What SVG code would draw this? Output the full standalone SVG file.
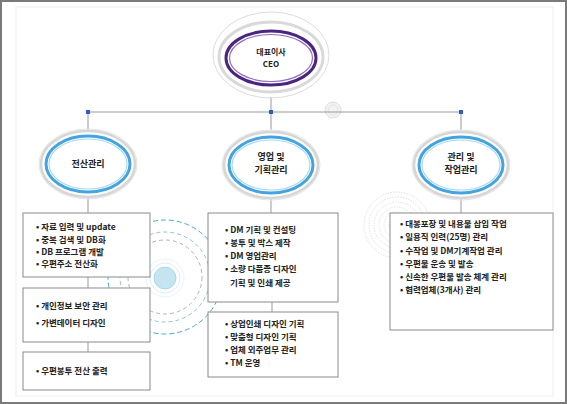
<svg xmlns="http://www.w3.org/2000/svg" width="567" height="404" viewBox="0 0 567 404">
<style>
.t{font-family:"Noto Sans CJK KR","Noto Sans",sans-serif;font-size:8.5px;font-weight:700;fill:#222}
.h{font-family:"Noto Sans CJK KR","Noto Sans",sans-serif;font-size:9px;font-weight:700;fill:#222;text-anchor:middle}
.box{fill:#fff;stroke:#8a8a8a;stroke-width:1}
.ln{stroke:#999;stroke-width:1;fill:none}
.g1{fill:none;stroke:#d6d6d6;stroke-width:2.5}
.g2{fill:none;stroke:#e4e4e4;stroke-width:1}
.b1{fill:#fff;stroke:#45a3de;stroke-width:3}
.b2{fill:none;stroke:#a9d9f3;stroke-width:1.2}
.sq{fill:#2a5bd0}
.dr{fill:none;stroke:#cfcfcf;stroke-width:0.6;stroke-dasharray:1.5 1.2}
</style>
<rect x="1" y="1" width="565" height="402" fill="#fff" stroke="#7a7a7a" stroke-width="2"/>
<rect x="16" y="7" width="537" height="389" fill="none" stroke="#eeeeee" stroke-width="1"/>
<g id="decor">
<circle cx="333" cy="110" r="8" fill="#f2f2f2" stroke="#d8d8d8" stroke-width="0.8"/>
<circle cx="333" cy="110" r="5" fill="none" stroke="#e0e0e0" stroke-width="0.8"/>
<circle class="dr" cx="397" cy="225" r="8"/>
<circle class="dr" cx="397" cy="225" r="13"/>
<circle class="dr" cx="397" cy="225" r="18"/>
<circle class="dr" cx="397" cy="225" r="23"/>
<circle class="dr" cx="397" cy="225" r="28"/>
<circle class="dr" cx="397" cy="225" r="33"/>
<circle cx="165" cy="277" r="37" fill="none" stroke="#aaaaaa" stroke-width="0.9" stroke-dasharray="4 3"/>
<circle cx="165" cy="277" r="45" fill="none" stroke="#8fb6cc" stroke-width="0.9" stroke-dasharray="4 3"/>
<circle cx="165" cy="277" r="57" fill="none" stroke="#4aa6d6" stroke-width="1" stroke-dasharray="5 3"/>
<circle cx="165" cy="278" r="19" fill="none" stroke="#e2f1f6" stroke-width="0.8"/>
<circle cx="165" cy="278" r="15" fill="none" stroke="#cfe8f1" stroke-width="0.8"/>
<circle cx="165" cy="278" r="11" fill="#c4e5f0" stroke="#9dd2e4" stroke-width="0.8"/>
</g>
<g id="connectors">
<line class="ln" x1="271" y1="97" x2="271" y2="112"/>
<line class="ln" x1="88" y1="112" x2="461" y2="112"/>
<line class="ln" x1="88" y1="112" x2="88" y2="130"/>
<line class="ln" x1="271" y1="112" x2="271" y2="130"/>
<line class="ln" x1="461" y1="112" x2="461" y2="130"/>
<rect class="sq" x="86" y="110" width="4" height="4"/>
<rect class="sq" x="269" y="110" width="4" height="4"/>
<rect class="sq" x="459" y="110" width="4" height="4"/>
<line class="ln" x1="88" y1="198" x2="88" y2="213"/>
<line class="ln" x1="271" y1="198" x2="271" y2="213"/>
<line class="ln" x1="461" y1="198" x2="461" y2="213"/>
<line class="ln" x1="88" y1="277" x2="88" y2="288"/>
<line class="ln" x1="88" y1="342" x2="88" y2="352"/>
<line class="ln" x1="272" y1="302" x2="272" y2="312"/>
</g>
<g id="ceo">
<ellipse cx="271" cy="55" rx="58" ry="43" fill="none" stroke="#dcdcdc" stroke-width="1"/>
<ellipse cx="271" cy="57" rx="52" ry="35" fill="none" stroke="#d9d9d9" stroke-width="3"/>
<ellipse cx="271" cy="58" rx="45" ry="27" fill="#fff" stroke="#4a2680" stroke-width="3"/>
<ellipse cx="271" cy="58" rx="41.5" ry="23.5" fill="none" stroke="#8f6cc4" stroke-width="1.2"/>
<text class="h" x="271" y="55" style="font-size:8px">대표이사</text>
<text class="h" x="271" y="67" style="font-size:8px">CEO</text>
</g>
<g id="n-left">
<ellipse class="g2" cx="88" cy="164" rx="49" ry="35"/>
<ellipse class="g1" cx="88" cy="164" rx="47" ry="33"/>
<ellipse class="b1" cx="88" cy="164" rx="42" ry="28"/>
<ellipse class="b2" cx="88" cy="164" rx="39" ry="25"/>
<text class="h" x="88" y="167">전산관리</text>
</g>
<g id="n-mid">
<ellipse class="g2" cx="271" cy="165" rx="49" ry="35"/>
<ellipse class="g1" cx="271" cy="165" rx="47" ry="33"/>
<ellipse class="b1" cx="271" cy="165" rx="42" ry="28"/>
<ellipse class="b2" cx="271" cy="165" rx="39" ry="25"/>
<text class="h" x="271" y="160">영업 및</text>
<text class="h" x="271" y="173">기획관리</text>
</g>
<g id="n-right">
<ellipse class="g2" cx="461" cy="165" rx="49" ry="35"/>
<ellipse class="g1" cx="461" cy="165" rx="47" ry="33"/>
<ellipse class="b1" cx="461" cy="165" rx="42" ry="28"/>
<ellipse class="b2" cx="461" cy="165" rx="39" ry="25"/>
<text class="h" x="461" y="160">관리 및</text>
<text class="h" x="461" y="173">작업관리</text>
</g>
<g id="box-l1">
<rect class="box" x="23" y="213" width="127" height="64"/>
<text class="t" x="36" y="230">• 자료 입력 및 update</text>
<text class="t" x="36" y="243">• 중복 검색 및 DB화</text>
<text class="t" x="36" y="255">• DB 프로그램 개발</text>
<text class="t" x="36" y="267">• 우편주소 전산화</text>
</g>
<g id="box-l2">
<rect class="box" x="23" y="288" width="127" height="54"/>
<text class="t" x="36" y="309">• 개인정보 보안 관리</text>
<text class="t" x="36" y="326">• 가변데이터 디자인</text>
</g>
<g id="box-l3">
<rect class="box" x="23" y="352" width="127" height="38"/>
<text class="t" x="36" y="374">• 우편봉투 전산 출력</text>
</g>
<g id="box-m1">
<rect class="box" x="208" y="213" width="130" height="89"/>
<text class="t" x="225" y="233">• DM 기획 및 컨설팅</text>
<text class="t" x="225" y="246">• 봉투 및 박스 제작</text>
<text class="t" x="225" y="259">• DM 영업관리</text>
<text class="t" x="225" y="272">• 소량 다품종 디자인</text>
<text class="t" x="230" y="286">기획 및 인쇄 제공</text>
</g>
<g id="box-m2">
<rect class="box" x="208" y="312" width="130" height="65"/>
<text class="t" x="225" y="327">• 상업인쇄 디자인 기획</text>
<text class="t" x="225" y="340">• 맞춤형 디자인 기획</text>
<text class="t" x="225" y="353">• 업체 외주업무 관리</text>
<text class="t" x="225" y="366">• TM 운영</text>
</g>
<g id="box-r">
<rect class="box" x="390" y="213" width="163" height="117"/>
<text class="t" x="400" y="227">• 대봉포장 및 내용물 삽입 작업</text>
<text class="t" x="400" y="240">• 일용직 인력(25명) 관리</text>
<text class="t" x="400" y="254">• 수작업 및 DM기계작업 관리</text>
<text class="t" x="400" y="267">• 우편물 운송 및 발송</text>
<text class="t" x="400" y="280">• 신속한 우편물 발송 체계 관리</text>
<text class="t" x="400" y="293">• 협력업체(3개사) 관리</text>
</g>
</svg>
